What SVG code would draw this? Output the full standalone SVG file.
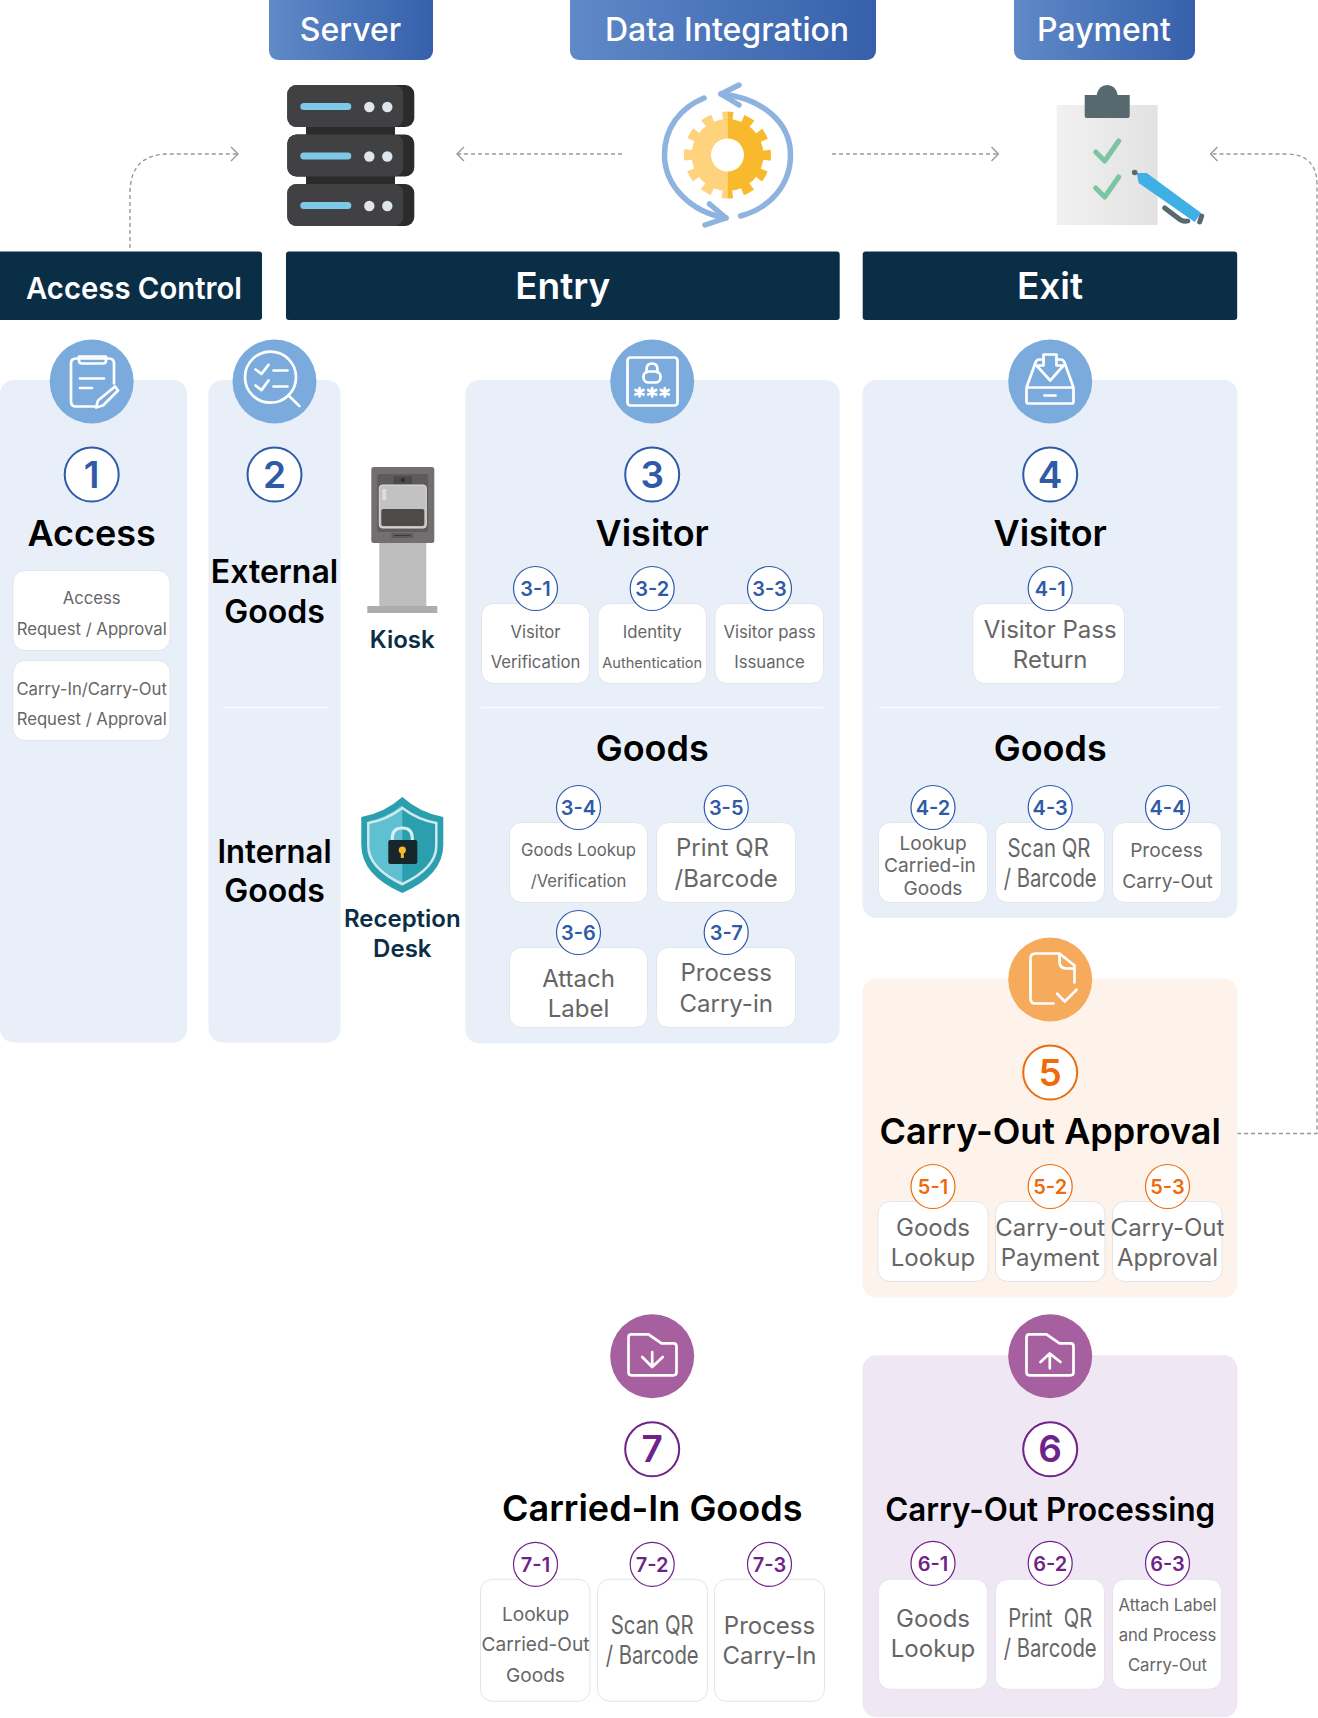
<svg xmlns="http://www.w3.org/2000/svg" width="1318" height="1718" viewBox="0 0 1318 1718">
<style>
text{font-family:Inter,"Noto Sans","Liberation Sans",sans-serif;text-anchor:middle}
.top{font-size:32px;font-weight:500;fill:#fff}
.hd{font-size:37px;font-weight:600;fill:#fff}
.hda{font-size:30.500px;font-weight:600;fill:#fff}
.title{font-size:36px;font-weight:600;fill:#000}
.sm{font-size:32px;font-weight:600;fill:#000}
.place{font-size:24px;font-weight:600;fill:#0a2e46}
.num{font-size:37px;font-weight:600}
.sub{font-size:20px;font-weight:600}
.t25{font-size:24px;fill:#666}
.tn{font-size:25.500px;fill:#666}
.t20{font-size:19.100px;fill:#666}
.t18{font-size:16.700px;fill:#666}
.t17{font-size:14.600px;fill:#666}
.up .t25,.up .t20,.up .t18,.up .t17,.up .tn{transform:translateY(-1px)}
.dn .t25,.dn .tn{transform:translateY(0.7px)}
.panel{fill:#e8eff9;transform:translateY(-0.5px)}
.card{fill:#fff;stroke:#e3e5e9;stroke-width:1}
.div{stroke:#f5f8fd;stroke-width:1.5}
.ic{fill:none;stroke:#fff;stroke-width:2.7;stroke-linecap:round;stroke-linejoin:round}
.bl{fill:#7aabdc}.or{fill:#f6ab5c}.pu{fill:#a65f9f}
.rb{fill:#fff;stroke:#2f5aa8;stroke-width:2}.ro{fill:#fff;stroke:#ee6b0c;stroke-width:2}.rp{fill:#fff;stroke:#6f2389;stroke-width:2}
.sb{fill:#fff;stroke:#2f5aa8;stroke-width:1.2}.so{fill:#fff;stroke:#ee6b0c;stroke-width:1.2}.sp{fill:#fff;stroke:#6f2389;stroke-width:1.2}
.cb{fill:#2f5aa8}.co{fill:#ee6b0c}.cp{fill:#6f2389}
.bar{fill:#0a2e46}
.dash{fill:none;stroke:#999;stroke-width:1.4;stroke-dasharray:4 3}
.srv{fill:#414042}.srd{fill:#2b2b2b}.lit{fill:#7ec9e8}.dot{fill:#dfe5ec}
.ck{fill:none;stroke:#7cc5a1;stroke-width:5;stroke-linecap:round;stroke-linejoin:round}
.ring{fill:none;stroke:#8fb3df;stroke-width:5.500;stroke-linecap:round;stroke-linejoin:round}
</style>
<defs>
<linearGradient id="btn" x1="0" x2="1" y1="0" y2="0"><stop offset="0" stop-color="#5f89c7"/><stop offset="1" stop-color="#3660ab"/></linearGradient>
<linearGradient id="board" x1="0" x2="1" y1="0" y2="0"><stop offset="0" stop-color="#f1f1f1"/><stop offset="1" stop-color="#e2e2e2"/></linearGradient>
<clipPath id="gl"><rect x="670" y="100" width="57.500" height="110"/></clipPath>
<clipPath id="gr"><rect x="727.500" y="100" width="57.500" height="110"/></clipPath>
<marker id="chev" viewBox="0 0 10 16" refX="9" refY="8" markerWidth="10" markerHeight="16" markerUnits="userSpaceOnUse" orient="auto"><path d="M2,1 L9,8 L2,15" fill="none" stroke="#999" stroke-width="1.4"/></marker>
<symbol id="bb" overflow="visible"><rect x="0" y="0" width="127" height="42" rx="9" class="srd"/><rect x="0" y="0" width="116" height="42" rx="9" class="srv"/><rect x="13" y="18" width="51" height="7" rx="3.500" class="lit"/><circle cx="82" cy="22" r="5.200" class="dot"/><circle cx="100" cy="22" r="5.200" class="dot"/></symbol>
</defs>

<g id="connectors">
<path class="dash" marker-end="url(#chev)" d="M130,248 V193 Q130,154 169,154 H238"/>
<path class="dash" marker-end="url(#chev)" d="M622,154 H457"/>
<path class="dash" marker-end="url(#chev)" d="M832,154 H998.500"/>
<path class="dash" marker-end="url(#chev)" d="M1237,1133.500 H1317 V185 Q1317,154 1286,154 H1210.500"/>
</g>

<g id="server-label"><rect x="269" y="-8" width="164" height="68" rx="9" fill="url(#btn)"/><text class="top" x="350.500" y="41">Server</text></g>
<g id="integration-label"><rect x="570" y="-8" width="306" height="68" rx="9" fill="url(#btn)"/><text class="top" x="727" y="41">Data Integration</text></g>
<g id="payment-label"><rect x="1014" y="-8" width="181" height="68" rx="9" fill="url(#btn)"/><text class="top" x="1104" y="41">Payment</text></g>

<g id="server-icon">
<rect x="306" y="120" width="89" height="20" class="srd"/><rect x="306" y="170" width="89" height="20" class="srd"/>
<use href="#bb" x="287.300" y="85"/><use href="#bb" x="287.300" y="134.500"/><use href="#bb" x="287.300" y="184"/>
</g>

<g id="integration-icon">
<path class="ring" d="M704,98 C680,108 664.500,128 664.500,155 C664.500,185 690,212 726,218"/>
<path class="ring" d="M740.600,216 C770,208 790.500,185 790.500,155 C790.500,122 762,98 721,94"/>
<path class="ring" d="M739,85 L721,94 L739,105"/>
<path class="ring" d="M709.500,204 L726,218 L705,225"/>
<g clip-path="url(#gl)"><circle cx="727.500" cy="155" r="36" fill="#ffd27d"/><circle cx="727.500" cy="155" r="39" fill="none" stroke="#ffd27d" stroke-width="9" stroke-dasharray="10.400 10.020" stroke-dashoffset="5.200"/></g>
<g clip-path="url(#gr)"><circle cx="727.500" cy="155" r="36" fill="#f9b92d"/><circle cx="727.500" cy="155" r="39" fill="none" stroke="#f9b92d" stroke-width="9" stroke-dasharray="10.400 10.020" stroke-dashoffset="5.200"/></g>
<circle cx="727.500" cy="155" r="16.500" fill="#fff"/>
</g>

<g id="payment-icon" transform="translate(0.700 0)">
<rect x="1056" y="105" width="101" height="120" fill="url(#board)"/>
<path fill="#56696f" d="M1084,95 H1096 Q1098,85 1106.500,85 Q1115,85 1117,95 H1129 V116 Q1129,118 1127,118 H1086 Q1084,118 1084,116Z"/>
<path class="ck" d="M1095,152 L1104,161 L1118,141"/>
<path class="ck" d="M1095,188 L1104,197 L1118,177"/>
<path fill="#3fb0e6" d="M1136,173 H1146 L1200.500,213 L1194,222 L1138,183Z"/>
<circle cx="1134" cy="172.500" r="2.800" fill="#56696f"/>
<path d="M1164,208 L1180,220 Q1184,222 1187,221" fill="none" stroke="#56696f" stroke-width="5" stroke-linecap="round"/>
<path d="M1201,216 L1199,222" fill="none" stroke="#56696f" stroke-width="5" stroke-linecap="round"/>
</g>

<g id="access-control-header"><rect x="-6" y="251.500" width="268" height="68.500" rx="3" class="bar"/><text class="hda" x="134" y="299" textLength="216" lengthAdjust="spacingAndGlyphs">Access Control</text></g>
<g id="entry-header"><rect x="286" y="251.500" width="553.700" height="68.500" rx="3" class="bar"/><text class="hd" x="562.800" y="299">Entry</text></g>
<g id="exit-header"><rect x="862.700" y="251.500" width="374.500" height="68.500" rx="3" class="bar"/><text class="hd" x="1050" y="299">Exit</text></g>

<g id="access" class="up" transform="translate(0 0.500)">
<rect class="panel" x="0" y="380" width="187" height="662.500" rx="14"/>
<circle class="bl" cx="91.700" cy="381" r="42"/>
<path class="ic" d="M114,383 V363 Q114,358 109,358 H76 Q71,358 71,363 V401 Q71,406 76,406 H94"/>
<path class="ic" d="M79,356 H106 V360 Q106,363 103,363 H82 Q79,363 79,360Z"/>
<path class="ic" d="M80,378 H104 M80,387.500 H92"/>
<path class="ic" d="M115,386 L118,390 L103,405 L96,407 L98,400Z"/>
<circle class="rb" cx="91.700" cy="474" r="27"/><text class="num cb" x="91.700" y="487">1</text>
<text class="title" x="91.700" y="545.500">Access</text>
<rect class="card" x="13" y="570" width="157" height="80" rx="12"/>
<text class="t18" x="91.700" y="604">Access</text><text class="t18" x="91.700" y="635">Request / Approval</text>
<rect class="card" x="13" y="660" width="157" height="80" rx="12"/>
<text class="t18" x="91.700" y="695">Carry-In/Carry-Out</text><text class="t18" x="91.700" y="725">Request / Approval</text>
</g>

<g id="goods-type" transform="translate(0.500 0.500)">
<rect class="panel" x="208" y="380" width="132" height="662.500" rx="14"/>
<circle class="bl" cx="274" cy="381" r="42"/>
<circle class="ic" cx="270" cy="376.700" r="25.500"/>
<path class="ic" d="M288,395 L299,405.600 M255,369 L261,373.300 L268,364.300 M255,385 L261,389.600 L268,380 M273,370 H287 M273,386 H287"/>
<circle class="rb" cx="274" cy="474" r="27"/><text class="num cb" x="274" y="487">2</text>
<text class="sm" x="274" y="582.500">External</text><text class="sm" x="274" y="622">Goods</text>
<line class="div" x1="222" y1="707" x2="328" y2="707"/>
<text class="sm" x="274" y="862" textLength="114" lengthAdjust="spacingAndGlyphs">Internal</text><text class="sm" x="274" y="901">Goods</text>
</g>

<g id="kiosk" transform="translate(0.300 0)">
<rect x="379" y="543" width="47" height="63" fill="#bdbdbd"/>
<rect x="367" y="606" width="70" height="7" fill="#adadad"/>
<rect x="371" y="467" width="63" height="76" rx="2.500" fill="#736f70"/>
<rect x="377" y="474" width="51" height="58" rx="2" fill="#5f5b5b"/>
<rect x="379" y="485" width="47" height="43" rx="3" fill="#c2c2c2" stroke="#dcdcdc"/>
<rect x="381" y="509" width="43" height="17" rx="2" fill="#4e4a47"/>
<rect x="393" y="476" width="19" height="8" rx="1.500" fill="#4e4a47"/>
<circle cx="402.500" cy="480" r="2" fill="#2e2b29"/>
<rect x="382" y="489" width="4" height="11" fill="#dddddd"/>
<rect x="391" y="533" width="22" height="5" rx="1" fill="#5f5b5b"/>
<path d="M394,535.500 H410" stroke="#3c3937" stroke-width="1"/>
<text class="place" x="402" y="648">Kiosk</text>
</g>

<g id="reception-desk" transform="translate(0.300 0)">
<path fill="#2c9fae" d="M402,797 Q420,813 443,817 V845 Q443,875 402,893 Q361,875 361,845 V817 Q384,813 402,797Z"/>
<path fill="#5fc0d2" d="M402,805 Q386,818 369,821 V845 Q369,870 402,886Z"/>
<path fill="none" stroke="#cfe9ee" stroke-width="2.500" d="M402,808 Q418,820 436,823 V846 Q436,868 402,884 Q368,868 368,846 V823 Q386,820 402,808Z"/>
<path fill="none" stroke="#d7eef2" stroke-width="3" d="M392,843 V838 Q392,828 402,828 Q412,828 412,838 V843"/>
<rect x="388" y="840" width="29" height="24" rx="2" fill="#16262b"/>
<circle cx="402" cy="850" r="3.600" fill="#f9b92d"/><rect x="400.500" y="851" width="3" height="7" fill="#f9b92d"/>
<text class="place" x="402" y="927">Reception</text><text class="place" x="402" y="957">Desk</text>
</g>

<g id="entry-panel" class="up" transform="translate(0.500 0.500)">
<rect class="panel" x="465" y="380" width="374" height="663.500" rx="14"/>
<circle class="bl" cx="651.700" cy="381" r="42"/>
<rect class="ic" x="627" y="357" width="50" height="48" rx="3"/>
<rect class="ic" x="643" y="371" width="17" height="11" rx="5"/>
<path class="ic" d="M646,372 V369 Q646,363 651.500,363 Q657,363 657,369 V372"/>
<path class="ic" d="M639,387.500 V396 M635,389.500 L643,394 M643,389.500 L635,394 M651.700,387.500 V396 M647.700,389.500 L655.700,394 M655.700,389.500 L647.700,394 M664.300,387.500 V396 M660.300,389.500 L668.300,394 M668.300,389.500 L660.300,394"/>
<circle class="rb" cx="651.700" cy="474" r="27"/><text class="num cb" x="651.700" y="487">3</text>
<text class="title" x="651.700" y="545.500">Visitor</text>
<rect class="card" x="481" y="603" width="108" height="80" rx="12"/>
<rect class="card" x="597.500" y="603" width="108.500" height="80" rx="12"/>
<rect class="card" x="714.500" y="603" width="108.500" height="80" rx="12"/>
<circle class="sb" cx="535" cy="588" r="22"/><text class="sub cb" x="535" y="595.500">3-1</text>
<circle class="sb" cx="651.700" cy="588" r="22"/><text class="sub cb" x="651.700" y="595.500">3-2</text>
<circle class="sb" cx="769" cy="588" r="22"/><text class="sub cb" x="769" y="595.500">3-3</text>
<text class="t18" x="535" y="638">Visitor</text><text class="t18" x="535" y="668">Verification</text>
<text class="t18" x="651.700" y="638">Identity</text><text class="t17" x="651.700" y="668">Authentication</text>
<text class="t18" x="769" y="638">Visitor pass</text><text class="t18" x="769" y="668">Issuance</text>
<line class="div" x1="480" y1="707" x2="823" y2="707"/>
<text class="title" x="651.700" y="760.500">Goods</text>
<rect class="card" x="509" y="822" width="138" height="80" rx="12"/>
<rect class="card" x="656" y="822" width="139" height="80" rx="12"/>
<rect class="card" x="509" y="947" width="138" height="80" rx="12"/>
<rect class="card" x="656" y="947" width="139" height="80" rx="12"/>
<circle class="sb" cx="578" cy="807" r="22"/><text class="sub cb" x="578" y="814.500">3-4</text>
<circle class="sb" cx="725.700" cy="807" r="22"/><text class="sub cb" x="725.700" y="814.500">3-5</text>
<circle class="sb" cx="578" cy="932" r="22"/><text class="sub cb" x="578" y="939.500">3-6</text>
<circle class="sb" cx="725.700" cy="932" r="22"/><text class="sub cb" x="725.700" y="939.500">3-7</text>
<text class="t18" x="578" y="856">Goods Lookup</text><text class="t18" x="578" y="887">/Verification</text>
<text class="t25" x="722" y="856">Print QR</text><text class="t25" x="725.700" y="887">/Barcode</text>
<text class="t25" x="578" y="987">Attach</text><text class="t25" x="578" y="1017">Label</text>
<text class="t25" x="725.700" y="981">Process</text><text class="t25" x="725.700" y="1012">Carry-in</text>
</g>

<g id="exit-panel" class="up" transform="translate(0.500 0.500)">
<rect class="panel" x="862" y="380" width="375" height="538" rx="14"/>
<circle class="bl" cx="1049.700" cy="381" r="42"/>
<path class="ic" d="M1026,387 L1035,362 Q1036,359 1039,359 H1043 M1056,359 H1060 Q1063,359 1064,362 L1073,387"/>
<rect class="ic" x="1026" y="387" width="47" height="16" rx="2"/>
<path class="ic" d="M1043,354 H1056 V365 H1063 L1049.700,380 L1036,365 H1043Z M1044,395 H1055"/>
<circle class="rb" cx="1049.700" cy="474" r="27"/><text class="num cb" x="1049.700" y="487">4</text>
<text class="title" x="1049.700" y="545.500">Visitor</text>
<rect class="card" x="972.500" y="603" width="151.500" height="80" rx="12"/>
<circle class="sb" cx="1049.700" cy="588" r="22"/><text class="sub cb" x="1049.700" y="595.500">4-1</text>
<text class="t25" x="1049.700" y="638">Visitor Pass</text><text class="t25" x="1049.700" y="668">Return</text>
<line class="div" x1="878" y1="707" x2="1221" y2="707"/>
<text class="title" x="1049.700" y="760.500">Goods</text>
<rect class="card" x="878" y="822" width="109" height="80" rx="12"/>
<rect class="card" x="995" y="822" width="109" height="80" rx="12"/>
<rect class="card" x="1112" y="822" width="109" height="80" rx="12"/>
<circle class="sb" cx="932.500" cy="807" r="22"/><text class="sub cb" x="932.500" y="814.500">4-2</text>
<circle class="sb" cx="1049.700" cy="807" r="22"/><text class="sub cb" x="1049.700" y="814.500">4-3</text>
<circle class="sb" cx="1167" cy="807" r="22"/><text class="sub cb" x="1167" y="814.500">4-4</text>
<text class="t20" x="932.500" y="850">Lookup</text><text class="t20" x="929.500" y="872">Carried-in</text><text class="t20" x="932.500" y="895">Goods</text>
<text class="tn" x="1048.500" y="857" textLength="83" lengthAdjust="spacingAndGlyphs">Scan QR</text><text class="tn" x="1049.700" y="887" textLength="93" lengthAdjust="spacingAndGlyphs">/ Barcode</text>
<text class="t20" x="1166" y="857">Process</text><text class="t20" x="1167" y="888">Carry-Out</text>
</g>

<g id="carry-out-approval" class="up" transform="translate(0.500 0.500)">
<rect x="862" y="978" width="375" height="319" rx="14" fill="#fdf3ea"/>
<circle class="or" cx="1049.700" cy="979" r="42"/>
<path class="ic" d="M1074,982 V965 L1059,953 H1035 Q1030,953 1030,958 V998 Q1030,1003 1035,1003 H1053 M1059,954 V961 Q1059,968 1066,968 H1073 M1056.700,993.300 L1064.300,1001 L1076,989.300"/>
<circle class="ro" cx="1049.700" cy="1072" r="27"/><text class="num co" x="1049.700" y="1085">5</text>
<text class="title" x="1049.700" y="1143.500">Carry-Out Approval</text>
<rect class="card" x="877.500" y="1201" width="110" height="80" rx="12"/>
<rect class="card" x="995" y="1201" width="109.500" height="80" rx="12"/>
<rect class="card" x="1112" y="1201" width="109.500" height="80" rx="12"/>
<circle class="so" cx="932.500" cy="1186" r="22"/><text class="sub co" x="932.500" y="1193.500">5-1</text>
<circle class="so" cx="1049.700" cy="1186" r="22"/><text class="sub co" x="1049.700" y="1193.500">5-2</text>
<circle class="so" cx="1167" cy="1186" r="22"/><text class="sub co" x="1167" y="1193.500">5-3</text>
<text class="t25" x="932.500" y="1236">Goods</text><text class="t25" x="932.500" y="1266">Lookup</text>
<text class="t25" x="1049.700" y="1236">Carry-out</text><text class="t25" x="1049.700" y="1266">Payment</text>
<text class="t25" x="1167" y="1236">Carry-Out</text><text class="t25" x="1167" y="1266">Approval</text>
</g>

<g id="carried-in-goods" class="dn" transform="translate(0.500 0.300)">
<circle class="pu" cx="651.700" cy="1356" r="42"/>
<path class="ic" d="M628,1337 Q628,1334 631,1334 H648 L661,1343 H673 Q676,1343 676,1346 V1372 Q676,1375 673,1375 H631 Q628,1375 628,1372Z M651.700,1351.700 V1366 M641.700,1356.700 L651.700,1366.700 L662.300,1356.700"/>
<circle class="rp" cx="651.700" cy="1449" r="27"/><text class="num cp" x="651.700" y="1462">7</text>
<text class="title" x="651.700" y="1520.500">Carried-In Goods</text>
<rect class="card" x="480" y="1579" width="109.500" height="122" rx="12"/>
<rect class="card" x="597" y="1579" width="110" height="122" rx="12"/>
<rect class="card" x="714" y="1579" width="110" height="122" rx="12"/>
<circle class="sp" cx="535" cy="1564" r="22"/><text class="sub cp" x="535" y="1571.500">7-1</text>
<circle class="sp" cx="651.700" cy="1564" r="22"/><text class="sub cp" x="651.700" y="1571.500">7-2</text>
<circle class="sp" cx="769" cy="1564" r="22"/><text class="sub cp" x="769" y="1571.500">7-3</text>
<text class="t20" x="535" y="1621">Lookup</text><text class="t20" x="535" y="1651">Carried-Out</text><text class="t20" x="535" y="1682">Goods</text>
<text class="tn" x="651.700" y="1633" textLength="83" lengthAdjust="spacingAndGlyphs">Scan QR</text><text class="tn" x="651.700" y="1663" textLength="93" lengthAdjust="spacingAndGlyphs">/ Barcode</text>
<text class="t25" x="769" y="1633">Process</text><text class="t25" x="769" y="1663">Carry-In</text>
</g>

<g id="carry-out-processing" transform="translate(0.500 0.300)">
<rect x="862" y="1355" width="375" height="362" rx="14" fill="#efe8f4"/>
<circle class="pu" cx="1049.700" cy="1356" r="42"/>
<path class="ic" d="M1026,1337 Q1026,1334 1029,1334 H1046 L1059,1343 H1070 Q1073,1343 1073,1346 V1372 Q1073,1375 1070,1375 H1029 Q1026,1375 1026,1372Z M1049.300,1353.300 V1368 M1040,1361.700 L1049.300,1353.300 L1060,1361.700"/>
<circle class="rp" cx="1049.700" cy="1449" r="27"/><text class="num cp" x="1049.700" y="1462">6</text>
<text class="sm" x="1049.700" y="1520.500" textLength="330" lengthAdjust="spacingAndGlyphs">Carry-Out Processing</text>
<rect class="card" x="878" y="1579" width="109" height="110" rx="12"/>
<rect class="card" x="995" y="1579" width="109" height="110" rx="12"/>
<rect class="card" x="1112" y="1579" width="109" height="110" rx="12"/>
<circle class="sp" cx="932.500" cy="1563" r="22"/><text class="sub cp" x="932.500" y="1570.500">6-1</text>
<circle class="sp" cx="1049.700" cy="1563" r="22"/><text class="sub cp" x="1049.700" y="1570.500">6-2</text>
<circle class="sp" cx="1167" cy="1563" r="22"/><text class="sub cp" x="1167" y="1570.500">6-3</text>
<text class="t25" x="932.500" y="1627">Goods</text><text class="t25" x="932.500" y="1657">Lookup</text>
<text class="tn" x="1049.700" y="1627" xml:space="preserve" textLength="84" lengthAdjust="spacingAndGlyphs">Print  QR</text><text class="tn" x="1049.700" y="1657" textLength="93" lengthAdjust="spacingAndGlyphs">/ Barcode</text>
<text class="t18" x="1167" y="1611">Attach Label</text><text class="t18" x="1167" y="1641">and Process</text><text class="t18" x="1167" y="1671">Carry-Out</text>
</g>
</svg>
